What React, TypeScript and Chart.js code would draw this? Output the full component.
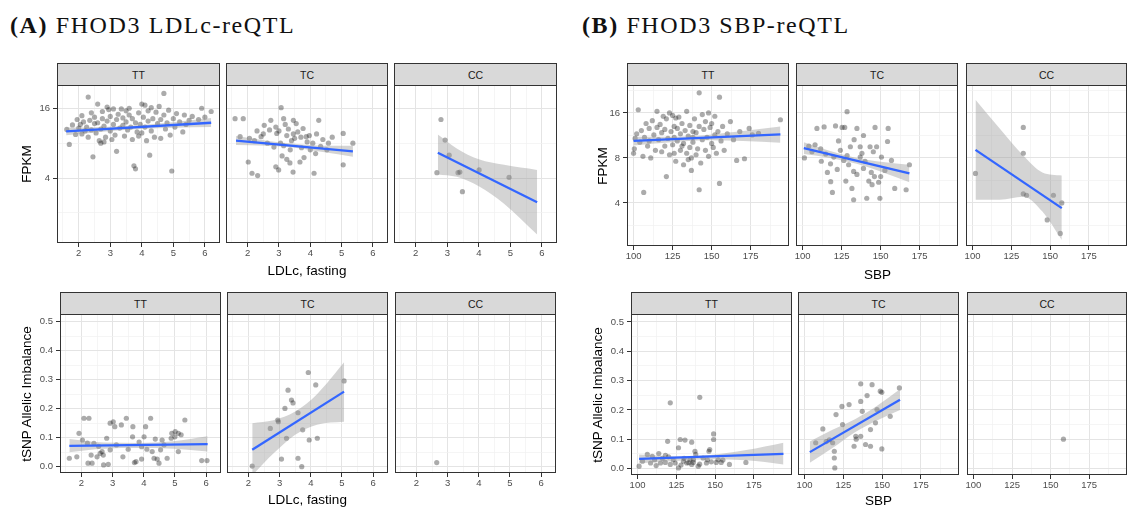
import React, { useEffect, useRef } from "react";
import { Chart, registerables } from "chart.js";
Chart.register(...registerables);

type Pt = [number, number];

const SANS = '"Liberation Sans", Arial, Helvetica, sans-serif';
const SERIF = '"Liberation Serif", "DejaVu Serif", serif';

// ---------- tick labels ----------
const genotypes = ["TT", "TC", "CC"];
const ldlTicks = [2, 3, 4, 5, 6];
const ldlMinor = [1.5, 2.5, 3.5, 4.5, 5.5];
const sbpTicks = [100, 125, 150, 175];
const sbpMinor = [112.5, 137.5, 162.5, 187.5];
const fpkmTicksA = [4, 16];
const fpkmMinorA = [2, 8];
const fpkmTicksB = [4, 8, 16];
const fpkmMinorB = [2.83, 5.66, 11.31, 22.63];
const aiTicks = [0, 0.1, 0.2, 0.3, 0.4, 0.5];
const aiMinor = [0.05, 0.15, 0.25, 0.35, 0.45];

// ---------- (A) LDLc vs FPKM ----------
const ldlFpkmTT: Pt[] = [
  [1.62, 10.5], [1.7, 7.8], [1.8, 11.5], [1.9, 9.5], [1.95, 12.8], [2.0, 10.8], [2.05, 11.6], [2.1, 9.6],
  [2.1, 13.8], [2.15, 12.2], [2.2, 10.2], [2.25, 11.0], [2.3, 20.0], [2.3, 9.0], [2.35, 12.6], [2.4, 14.6],
  [2.4, 10.4], [2.45, 6.1], [2.5, 11.8], [2.5, 13.4], [2.55, 9.8], [2.6, 17.4], [2.6, 12.0], [2.65, 8.4],
  [2.7, 8.0], [2.7, 10.6], [2.75, 15.0], [2.75, 13.0], [2.8, 8.2], [2.8, 11.2], [2.85, 9.0], [2.9, 16.4],
  [2.9, 12.4], [2.95, 15.6], [3.0, 10.2], [3.0, 13.6], [3.05, 8.6], [3.1, 11.6], [3.1, 15.8], [3.15, 9.4],
  [3.2, 12.8], [3.2, 6.8], [3.25, 14.2], [3.3, 10.8], [3.35, 15.8], [3.4, 11.4], [3.4, 13.2], [3.45, 9.2],
  [3.5, 15.2], [3.5, 12.2], [3.55, 10.4], [3.6, 14.0], [3.6, 16.0], [3.65, 11.0], [3.7, 8.6], [3.7, 13.0],
  [3.75, 5.1], [3.8, 4.8], [3.8, 12.0], [3.85, 10.0], [3.9, 14.6], [3.9, 9.2], [3.95, 11.6], [4.0, 17.4],
  [4.0, 9.8], [4.05, 13.4], [4.1, 17.0], [4.1, 11.0], [4.15, 8.4], [4.2, 15.2], [4.2, 12.4], [4.25, 6.3],
  [4.3, 16.2], [4.3, 10.2], [4.35, 13.0], [4.4, 9.0], [4.45, 14.8], [4.5, 11.8], [4.55, 16.6], [4.6, 12.8],
  [4.6, 8.8], [4.7, 21.5], [4.7, 14.0], [4.75, 10.6], [4.8, 12.0], [4.85, 15.4], [4.9, 9.4], [4.95, 4.6],
  [5.0, 13.0], [5.05, 11.0], [5.1, 14.4], [5.2, 12.2], [5.3, 10.0], [5.35, 14.0], [5.5, 12.6], [5.6, 13.6],
  [5.8, 12.8], [5.9, 16.0], [6.0, 13.4], [6.2, 15.0], [5.4, 11.6],
];
const ldlFpkmTC: Pt[] = [
  [1.6, 13], [1.86, 13], [1.76, 9.1], [2.02, 5.5], [2.06, 8.8], [2.14, 4.4], [2.22, 8.4], [2.32, 4.2],
  [2.43, 9.1], [2.53, 11.4], [2.63, 8.0], [2.74, 12.6], [2.84, 7.4], [2.93, 9.7], [2.99, 4.7], [3.05, 8.0],
  [3.07, 16.2], [3.15, 13], [3.25, 9.3], [3.25, 5.8], [3.36, 7.0], [3.4, 8.4], [3.45, 4.5], [3.46, 12.6],
  [3.46, 9.6], [3.6, 10], [3.67, 5.5], [3.72, 7.3], [3.77, 10.7], [3.87, 9.1], [3.97, 9.3], [4.08, 8.0],
  [4.12, 4.4], [4.17, 6.5], [4.27, 12.6], [4.33, 7.5], [4.53, 7.0], [4.58, 8.0], [5.05, 9.7], [5.05, 5.2],
  [5.36, 8.0], [2.9, 11.0], [3.0, 10.2], [3.1, 6.2], [3.2, 11.6], [3.3, 10.6], [3.35, 5.4], [3.5, 8.8],
  [3.55, 11.8], [3.7, 9.0], [3.8, 6.0], [3.9, 8.2], [4.0, 7.0], [4.2, 9.6], [4.4, 8.6], [2.7, 10.4],
  [2.5, 9.6], [3.15, 7.6], [2.3, 10.2], [4.7, 9.0], [2.9, 5.0],
];
const ldlFpkmCC: Pt[] = [
  [2.8, 12.8], [2.93, 8.5], [3.06, 6.3], [2.67, 4.45], [3.34, 4.45], [3.4, 4.5], [3.48, 3.05], [4.01, 4.7], [4.96, 4.06],
];
const ldlFpkmFitX = { TT: [1.6, 6.2], TC: [1.63, 5.36], CC: [2.7, 5.85] };
const ldlFpkmFitY = { TT: [10.1, 12.0], TC: [8.4, 6.8], CC: [6.6, 2.47] };
const ldlFpkmBandX = { TT: [1.6, 2.75, 3.9, 5.05, 6.2], TC: [1.63, 2.6, 3.5, 4.4, 5.36], CC: [2.7, 3.3, 4.0, 4.8, 5.85] };
const ldlFpkmBandHi = { TT: [10.9, 11.05, 11.4, 12.2, 13.2], TC: [9.2, 8.4, 7.9, 7.6, 7.6], CC: [9.5, 7.2, 5.8, 5.2, 4.7] };
const ldlFpkmBandLo = { TT: [9.35, 10.05, 10.6, 10.85, 11.0], TC: [7.7, 7.6, 7.3, 6.7, 6.1], CC: [4.3, 4.1, 3.4, 2.4, 1.3] };

// ---------- (A) LDLc vs allelic imbalance ----------
const ldlAiTT: Pt[] = [
  [1.61, 0.029], [1.85, 0.034], [1.92, 0.115], [2.08, 0.167], [2.24, 0.167], [2.03, 0.092], [2.19, 0.081],
  [2.21, 0.012], [2.34, 0.012], [2.31, 0.04], [2.5, 0.034], [2.66, 0.052], [2.6, 0.046], [2.71, 0.006],
  [2.86, 0.008], [2.81, 0.098], [2.92, 0.15], [3.02, 0.155], [3.07, 0.138], [2.92, 0.058], [3.28, 0.144],
  [3.44, 0.167], [3.33, 0.034], [3.65, 0.138], [3.64, 0.103], [3.7, 0.014], [3.75, 0.017], [4.01, 0.103],
  [4.06, 0.138], [4.22, 0.167], [3.93, 0.069], [3.93, 0.026], [4.27, 0.052], [4.33, 0.029], [4.43, 0.026],
  [4.49, 0.012], [4.59, 0.092], [4.54, 0.058], [4.75, 0.029], [4.9, 0.115], [5.01, 0.121], [5.11, 0.115],
  [5.0, 0.103], [4.88, 0.098], [5.32, 0.161], [5.11, 0.052], [5.86, 0.021], [6.03, 0.021], [2.4, 0.08],
  [3.12, 0.075], [3.85, 0.085], [4.37, 0.095], [2.55, 0.07], [2.7, 0.04], [3.5, 0.06], [4.1, 0.06],
  [4.65, 0.075], [5.2, 0.11],
];
const ldlAiTC: Pt[] = [
  [2.12, 0.002], [2.7, 0.132], [2.94, 0.161], [3.17, 0.201], [3.27, 0.264], [3.38, 0.23], [3.43, 0.22],
  [3.22, 0.098], [3.06, 0.026], [2.96, 0.155], [3.59, 0.029], [3.71, 0.0], [3.74, 0.127], [3.92, 0.325],
  [3.95, 0.092], [4.16, 0.282], [4.21, 0.098], [5.07, 0.296], [3.59, 0.186],
];
const ldlAiCC: Pt[] = [[2.65, 0.014]];
const ldlAiFitX = { TT: [1.61, 6.05], TC: [2.12, 5.07] };
const ldlAiFitY = { TT: [0.072, 0.078], TC: [0.058, 0.259] };
const ldlAiBandX = { TT: [1.61, 2.72, 3.83, 4.94, 6.05], TC: [2.12, 2.8, 3.5, 4.2, 5.07] };
const ldlAiBandHi = { TT: [0.095, 0.083, 0.082, 0.088, 0.105], TC: [0.15, 0.16, 0.19, 0.25, 0.36] };
const ldlAiBandLo = { TT: [0.05, 0.062, 0.064, 0.062, 0.052], TC: [-0.03, 0.045, 0.11, 0.145, 0.155] };

// ---------- (B) SBP vs FPKM ----------
const sbpFpkmTT: Pt[] = [
  [100, 8.6], [100.5, 9.2], [101, 10.8], [102, 11.6], [103, 16.8], [104, 10.2], [105, 12.2], [106, 8.2],
  [106.5, 4.7], [107, 11.0], [108, 13.6], [109, 9.6], [110, 12.6], [110, 10.4], [111, 8.0], [112, 14.2],
  [113, 11.4], [114, 9.0], [115, 12.8], [115, 16.4], [116, 10.6], [117, 13.4], [118, 8.8], [118, 11.8],
  [119, 15.2], [120, 9.6], [120, 12.4], [121, 6.0], [121, 14.6], [122, 10.8], [123, 16.0], [123, 8.4],
  [124, 12.0], [125, 15.4], [125, 9.8], [126, 13.0], [126, 11.0], [127, 14.8], [127, 7.6], [128, 10.4],
  [128, 12.6], [129, 15.0], [130, 9.0], [130, 11.6], [131, 13.6], [132, 7.2], [132, 10.0], [133, 12.2],
  [134, 8.6], [134, 16.4], [135, 11.2], [135, 7.8], [136, 13.2], [136, 9.4], [137, 8.0], [137, 6.6],
  [138, 12.0], [138, 10.2], [139, 14.6], [140, 8.4], [140, 11.8], [141, 9.2], [142, 21.8], [142, 13.0],
  [142, 4.9], [143, 7.4], [144, 15.6], [144, 10.6], [145, 12.4], [146, 9.0], [146, 14.0], [147, 11.0],
  [148, 16.0], [148, 8.2], [149, 12.8], [150, 10.0], [150, 13.6], [151, 9.4], [152, 15.2], [152, 11.4],
  [153, 8.6], [154, 12.0], [155, 20.4], [155, 5.4], [156, 10.4], [157, 13.0], [158, 9.0], [160, 11.6],
  [162, 14.0], [164, 10.6], [166, 7.7], [168, 12.0], [171, 7.9], [174, 12.6], [176, 11.4], [180, 11.7],
  [194, 14.4], [138, 11.0], [131, 9.6], [126, 8.6],
];
const sbpFpkmTC: Pt[] = [
  [101.2, 8.0], [109.2, 12.6], [113.8, 12.9], [121.1, 13.1], [125.3, 12.8], [128.5, 16.3], [134.8, 12.6],
  [139, 11.3], [146.4, 12.8], [154.8, 12.6], [154.4, 10.3], [147.4, 9.5], [143.2, 9.5], [118, 5.55],
  [119.1, 4.7], [132.7, 4.2], [141.1, 4.3], [149.5, 4.3], [159, 5.0], [166.3, 4.9], [131.6, 5.0],
  [168.4, 7.2], [156.9, 7.7], [150.5, 8.1], [145.3, 8.8], [136.9, 8.1], [132.7, 6.5], [134.8, 6.2],
  [127.7, 5.6], [142.4, 5.6], [144.5, 5.3], [148.7, 5.5], [122.2, 6.7], [117.9, 7.3], [114.8, 8.5],
  [111.6, 9.2], [124.2, 9.0], [128.5, 8.3], [120, 8.1], [115.9, 6.4], [130.6, 9.5], [139, 6.8],
  [152.7, 6.6], [126.4, 7.7], [129.5, 7.2], [136.9, 9.5], [104, 9.6], [106, 8.8], [108, 9.8], [112, 7.6],
  [123, 10.4], [127, 12.8], [133, 10.6], [140, 7.6], [144, 6.4], [146, 6.0], [150, 6.0], [138, 8.6],
];
const sbpFpkmCC: Pt[] = [
  [101.9, 6.3], [132.7, 12.8], [132.7, 8.6], [132.7, 4.6], [134.8, 4.5], [152.1, 4.5], [157.5, 4.0], [148.1, 3.08], [156.5, 2.5],
];
const sbpFpkmFitX = { TT: [100, 194], TC: [100.8, 168.4], CC: [101.9, 157.5] };
const sbpFpkmFitY = { TT: [10.4, 11.5], TC: [9.3, 6.3], CC: [9.06, 3.69] };
const sbpFpkmBandX = { TT: [100, 124, 147, 170, 194], TC: [100.8, 117.7, 134.6, 151.5, 168.4], CC: [101.9, 117.5, 132.7, 145, 157.5] };
const sbpFpkmBandHi = { TT: [11.1, 11.1, 11.4, 12.1, 13.0], TC: [10.2, 8.9, 8.0, 7.5, 7.2], CC: [19.6, 12.6, 8.3, 6.4, 6.1] };
const sbpFpkmBandLo = { TT: [9.7, 10.2, 10.5, 10.4, 10.1], TC: [8.5, 8.0, 7.3, 6.4, 5.5], CC: [4.2, 4.2, 4.4, 3.5, 2.26] };

// ---------- (B) SBP vs allelic imbalance ----------
const sbpAiTT: Pt[] = [
  [121.1, 0.224], [140.1, 0.243], [119.4, 0.093], [127.5, 0.099], [130.6, 0.097], [134.9, 0.09], [149, 0.118],
  [149, 0.099], [146.5, 0.065], [126.4, 0.071], [101, 0.008], [103.2, 0.025], [109.5, 0.042], [113.7, 0.051],
  [114.8, 0.019], [117.9, 0.021], [121.1, 0.014], [124.3, 0.019], [126.4, 0.002], [129.6, 0.025], [131.7, 0.019],
  [133.8, 0.031], [134.9, 0.014], [135.9, 0.021], [137, 0.059], [137.5, 0.048], [139.1, 0.008], [142.2, 0.036],
  [144.4, 0.019], [146, 0.059], [147.5, 0.023], [150.7, 0.021], [153.9, 0.021], [155, 0.029], [159.2, 0.014],
  [169.8, 0.021], [106.3, 0.048], [108.4, 0.019], [111, 0.03], [116, 0.035], [120, 0.04], [123, 0.03],
  [128, 0.012], [133, 0.02], [136, 0.03], [140, 0.015], [145, 0.03], [152, 0.03], [112, 0.01], [118, 0.045],
  [130, 0.035],
];
const sbpAiTC: Pt[] = [
  [107.2, 0.088], [111.8, 0.135], [120.3, 0.184], [119.2, 0.059], [119.2, 0.036], [119.5, 0.002], [118.1, 0.088],
  [124.1, 0.212], [128.7, 0.218], [124.5, 0.15], [131.9, 0.076], [133, 0.11], [136.2, 0.11], [133.3, 0.1],
  [136.2, 0.289], [143.5, 0.286], [136.2, 0.229], [140.3, 0.249], [137.2, 0.195], [139.3, 0.082], [142.5, 0.076],
  [142.5, 0.133], [148.8, 0.264], [149.8, 0.26], [145.7, 0.156], [149.8, 0.067], [155.2, 0.178], [161.1, 0.275],
  [146.7, 0.201], [114, 0.092], [116, 0.098],
];
const sbpAiCC: Pt[] = [[158.3, 0.1]];
const sbpAiFitX = { TT: [101, 194], TC: [103.4, 161.5] };
const sbpAiFitY = { TT: [0.033, 0.05], TC: [0.056, 0.235] };
const sbpAiBandX = { TT: [101, 124, 147, 170, 194], TC: [103.4, 118, 132.5, 147, 161.5] };
const sbpAiBandHi = { TT: [0.048, 0.042, 0.046, 0.063, 0.088], TC: [0.092, 0.132, 0.168, 0.215, 0.27] };
const sbpAiBandLo = { TT: [0.018, 0.026, 0.032, 0.028, 0.014], TC: [0.02, 0.07, 0.124, 0.165, 0.2] };

// ---------- axis definitions ----------
interface AxisDef {
  type: "linear" | "logarithmic";
  min: number;
  max: number;
  major: number[];
  minor: number[];
  fmt: (v: number) => string;
}
const xLdl: AxisDef = { type: "linear", min: 1.31, max: 6.48, major: ldlTicks, minor: ldlMinor, fmt: (v) => String(v) };
const xSbp: AxisDef = { type: "linear", min: 95.8, max: 199.5, major: sbpTicks, minor: sbpMinor, fmt: (v) => String(v) };
const yFpkmA: AxisDef = { type: "logarithmic", min: 1.1, max: 25.4, major: fpkmTicksA, minor: fpkmMinorA, fmt: (v) => String(v) };
const yFpkmB: AxisDef = { type: "logarithmic", min: 2.06, max: 24.6, major: fpkmTicksB, minor: fpkmMinorB, fmt: (v) => String(v) };
const yAi: AxisDef = { type: "linear", min: -0.022, max: 0.527, major: aiTicks, minor: aiMinor, fmt: (v) => v.toFixed(1) };

interface Spec {
  id: string;
  label: string;
  left: number;
  top: number;
  w: number;
  h: number;
  showY: boolean;
  pts: Pt[];
  fitX?: number[];
  fitY?: number[];
  bandX?: number[];
  bandHi?: number[];
  bandLo?: number[];
  x: AxisDef;
  y: AxisDef;
}

const STRIP_H = 22;

const specs: Spec[] = [
  // A top
  { id: "at1", label: genotypes[0], left: 57, top: 85, w: 163, h: 158, showY: true, pts: ldlFpkmTT, fitX: ldlFpkmFitX.TT, fitY: ldlFpkmFitY.TT, bandX: ldlFpkmBandX.TT, bandHi: ldlFpkmBandHi.TT, bandLo: ldlFpkmBandLo.TT, x: xLdl, y: yFpkmA },
  { id: "at2", label: genotypes[1], left: 226, top: 85, w: 162, h: 158, showY: false, pts: ldlFpkmTC, fitX: ldlFpkmFitX.TC, fitY: ldlFpkmFitY.TC, bandX: ldlFpkmBandX.TC, bandHi: ldlFpkmBandHi.TC, bandLo: ldlFpkmBandLo.TC, x: xLdl, y: yFpkmA },
  { id: "at3", label: genotypes[2], left: 394, top: 85, w: 163, h: 158, showY: false, pts: ldlFpkmCC, fitX: ldlFpkmFitX.CC, fitY: ldlFpkmFitY.CC, bandX: ldlFpkmBandX.CC, bandHi: ldlFpkmBandHi.CC, bandLo: ldlFpkmBandLo.CC, x: xLdl, y: yFpkmA },
  // A bottom
  { id: "ab1", label: genotypes[0], left: 60, top: 314, w: 161, h: 159, showY: true, pts: ldlAiTT, fitX: ldlAiFitX.TT, fitY: ldlAiFitY.TT, bandX: ldlAiBandX.TT, bandHi: ldlAiBandHi.TT, bandLo: ldlAiBandLo.TT, x: xLdl, y: yAi },
  { id: "ab2", label: genotypes[1], left: 227, top: 314, w: 161, h: 159, showY: false, pts: ldlAiTC, fitX: ldlAiFitX.TC, fitY: ldlAiFitY.TC, bandX: ldlAiBandX.TC, bandHi: ldlAiBandHi.TC, bandLo: ldlAiBandLo.TC, x: xLdl, y: yAi },
  { id: "ab3", label: genotypes[2], left: 395, top: 314, w: 161, h: 159, showY: false, pts: ldlAiCC, x: xLdl, y: yAi },
  // B top
  { id: "bt1", label: genotypes[0], left: 627, top: 85, w: 162, h: 161, showY: true, pts: sbpFpkmTT, fitX: sbpFpkmFitX.TT, fitY: sbpFpkmFitY.TT, bandX: sbpFpkmBandX.TT, bandHi: sbpFpkmBandHi.TT, bandLo: sbpFpkmBandLo.TT, x: xSbp, y: yFpkmB },
  { id: "bt2", label: genotypes[1], left: 796, top: 85, w: 162, h: 161, showY: false, pts: sbpFpkmTC, fitX: sbpFpkmFitX.TC, fitY: sbpFpkmFitY.TC, bandX: sbpFpkmBandX.TC, bandHi: sbpFpkmBandHi.TC, bandLo: sbpFpkmBandLo.TC, x: xSbp, y: yFpkmB },
  { id: "bt3", label: genotypes[2], left: 966, top: 85, w: 161, h: 161, showY: false, pts: sbpFpkmCC, fitX: sbpFpkmFitX.CC, fitY: sbpFpkmFitY.CC, bandX: sbpFpkmBandX.CC, bandHi: sbpFpkmBandHi.CC, bandLo: sbpFpkmBandLo.CC, x: xSbp, y: yFpkmB },
  // B bottom
  { id: "bb1", label: genotypes[0], left: 631, top: 314, w: 161, h: 161, showY: true, pts: sbpAiTT, fitX: sbpAiFitX.TT, fitY: sbpAiFitY.TT, bandX: sbpAiBandX.TT, bandHi: sbpAiBandHi.TT, bandLo: sbpAiBandLo.TT, x: xSbp, y: yAi },
  { id: "bb2", label: genotypes[1], left: 798, top: 314, w: 161, h: 161, showY: false, pts: sbpAiTC, fitX: sbpAiFitX.TC, fitY: sbpAiFitY.TC, bandX: sbpAiBandX.TC, bandHi: sbpAiBandHi.TC, bandLo: sbpAiBandLo.TC, x: xSbp, y: yAi },
  { id: "bb3", label: genotypes[2], left: 967, top: 314, w: 160, h: 161, showY: false, pts: sbpAiCC, x: xSbp, y: yAi },
];

const isIn = (arr: number[], v: number) => arr.some((a) => Math.abs(a - v) < 1e-6);

const borderPlugin = {
  id: "panelBorder",
  afterDraw(chart: any) {
    const { ctx, chartArea: a } = chart;
    ctx.save();
    ctx.strokeStyle = "#333333";
    ctx.lineWidth = 1;
    ctx.strokeRect(Math.round(a.left) + 0.5, Math.round(a.top) + 0.5, Math.round(a.right - a.left) - 1, Math.round(a.bottom - a.top) - 1);
    ctx.restore();
  },
};

function scaleConfig(def: AxisDef, axis: "x" | "y", showLabels: boolean, size: number) {
  const all = [...def.major, ...def.minor].filter((v) => v >= def.min && v <= def.max).sort((a, b) => a - b);
  return {
    type: def.type,
    min: def.min,
    max: def.max,
    afterBuildTicks: (sc: any) => {
      sc.ticks = all.map((v) => ({ value: v }));
    },
    afterFit: (sc: any) => {
      if (axis === "x") {
        sc.height = size;
        sc.paddingLeft = 0;
        sc.paddingRight = 0;
      } else {
        sc.width = size;
        sc.paddingTop = 0;
        sc.paddingBottom = 0;
      }
    },
    ticks: {
      display: showLabels,
      autoSkip: false,
      maxRotation: 0,
      minRotation: 0,
      padding: axis === "x" ? 1 : 3,
      color: "#4d4d4d",
      font: { family: SANS, size: 9.5 },
      callback: (_v: any, i: number, ticks: any[]) => {
        const val = ticks[i].value;
        return isIn(def.major, val) ? def.fmt(val) : "";
      },
    },
    grid: {
      drawTicks: true,
      tickLength: 4,
      tickWidth: 1,
      color: (ctx: any) => (isIn(def.major, ctx.tick?.value) ? "#e4e4e4" : "#f1f1f1"),
      lineWidth: (ctx: any) => (isIn(def.major, ctx.tick?.value) ? 1 : 0.7),
      tickColor: (ctx: any) => (showLabels && isIn(def.major, ctx.tick?.value) ? "#333333" : "rgba(0,0,0,0)"),
    },
    border: { display: false },
  };
}

function Panel({ s }: { s: Spec }) {
  const ref = useRef<HTMLCanvasElement>(null);
  const padL = s.showY ? 40 : 16;
  const padR = 16;
  const padT = 8;
  const padB = 18;
  const cw = padL + s.w + padR;
  const ch = padT + s.h + padB;

  useEffect(() => {
    if (!ref.current) return;
    const datasets: any[] = [];
    if (s.fitX && s.fitY) {
      datasets.push({
        type: "line",
        data: s.fitX.map((x, i) => ({ x, y: s.fitY![i] })),
        borderColor: "#3366FF",
        borderWidth: 2.3,
        pointRadius: 0,
        fill: false,
        showLine: true,
        tension: 0,
      });
    }
    if (s.bandX && s.bandLo && s.bandHi) {
      datasets.push({
        type: "line",
        data: s.bandX.map((x, i) => ({ x, y: s.bandLo![i] })),
        borderColor: "rgba(0,0,0,0)",
        borderWidth: 0,
        pointRadius: 0,
        fill: false,
        showLine: true,
        cubicInterpolationMode: "monotone",
      });
      datasets.push({
        type: "line",
        data: s.bandX.map((x, i) => ({ x, y: s.bandHi![i] })),
        borderColor: "rgba(0,0,0,0)",
        borderWidth: 0,
        pointRadius: 0,
        fill: "-1",
        backgroundColor: "rgba(153,153,153,0.42)",
        showLine: true,
        cubicInterpolationMode: "monotone",
      });
    }
    datasets.push({
      type: "scatter",
      data: s.pts.map(([x, y]) => ({ x, y })),
      pointRadius: 2.6,
      pointBackgroundColor: "rgba(0,0,0,0.33)",
      pointBorderWidth: 0,
      borderWidth: 0,
      pointBorderColor: "rgba(0,0,0,0)",
    });

    const chart = new Chart(ref.current, {
      type: "scatter",
      data: { datasets },
      options: {
        animation: false,
        responsive: false,
        events: [],
        layout: { padding: { top: padT, right: padR, left: 0, bottom: 0 } },
        plugins: { legend: { display: false }, tooltip: { enabled: false }, title: { display: false } },
        scales: {
          x: scaleConfig(s.x, "x", true, padB) as any,
          y: scaleConfig(s.y, "y", s.showY, padL) as any,
        },
      },
      plugins: [borderPlugin],
    });
    return () => chart.destroy();
  }, [s]);

  return (
    <>
      <div
        style={{
          position: "absolute",
          left: s.left,
          top: s.top - STRIP_H,
          width: s.w,
          height: STRIP_H + 1,
          background: "#d9d9d9",
          border: "1px solid #333333",
          boxSizing: "border-box",
          fontFamily: SANS,
          fontSize: 10.5,
          color: "#1a1a1a",
          display: "flex",
          alignItems: "center",
          justifyContent: "center",
        }}
      >
        {s.label}
      </div>
      <canvas
        ref={ref}
        width={cw}
        height={ch}
        style={{ position: "absolute", left: s.left - padL, top: s.top - padT, width: cw, height: ch }}
      />
    </>
  );
}

function XTitle({ cx, cy, text }: { cx: number; cy: number; text: string }) {
  return (
    <div
      style={{
        position: "absolute",
        left: cx - 100,
        top: cy - 9,
        width: 200,
        height: 18,
        lineHeight: "18px",
        textAlign: "center",
        fontFamily: SANS,
        fontSize: 13.5,
        color: "#000",
      }}
    >
      {text}
    </div>
  );
}

function YTitle({ cx, cy, text }: { cx: number; cy: number; text: string }) {
  return (
    <div
      style={{
        position: "absolute",
        left: cx - 100,
        top: cy - 9,
        width: 200,
        height: 18,
        lineHeight: "18px",
        textAlign: "center",
        fontFamily: SANS,
        fontSize: 13.5,
        color: "#000",
        transform: "rotate(-90deg)",
      }}
    >
      {text}
    </div>
  );
}

function PanelTitle({ left, tag, text }: { left: number; tag: string; text: string }) {
  return (
    <div
      style={{
        position: "absolute",
        left,
        top: 11,
        height: 28,
        lineHeight: "28px",
        whiteSpace: "nowrap",
        fontFamily: SERIF,
        fontSize: 24,
        letterSpacing: 1.6,
        color: "#111",
      }}
    >
      <b>{tag}</b> {text}
    </div>
  );
}

export default function App() {
  return (
    <div
      style={{
        position: "fixed",
        left: 0,
        top: 0,
        width: 1134,
        height: 508,
        background: "#fff",
        overflow: "hidden",
      }}
    >
      <PanelTitle left={10} tag="(A)" text="FHOD3 LDLc-reQTL" />
      <PanelTitle left={582} tag="(B)" text="FHOD3 SBP-reQTL" />
      {specs.map((s) => (
        <Panel key={s.id} s={s} />
      ))}
      <XTitle cx={307} cy={271} text="LDLc, fasting" />
      <XTitle cx={307.5} cy={499.5} text="LDLc, fasting" />
      <XTitle cx={877.5} cy={274.5} text="SBP" />
      <XTitle cx={878.5} cy={501} text="SBP" />
      <YTitle cx={27} cy={164} text="FPKM" />
      <YTitle cx={27} cy={393.5} text="tSNP Allelic Imbalance" />
      <YTitle cx={602.5} cy={165.5} text="FPKM" />
      <YTitle cx={597.5} cy={395} text="tSNP Allelic Imbalance" />
    </div>
  );
}
